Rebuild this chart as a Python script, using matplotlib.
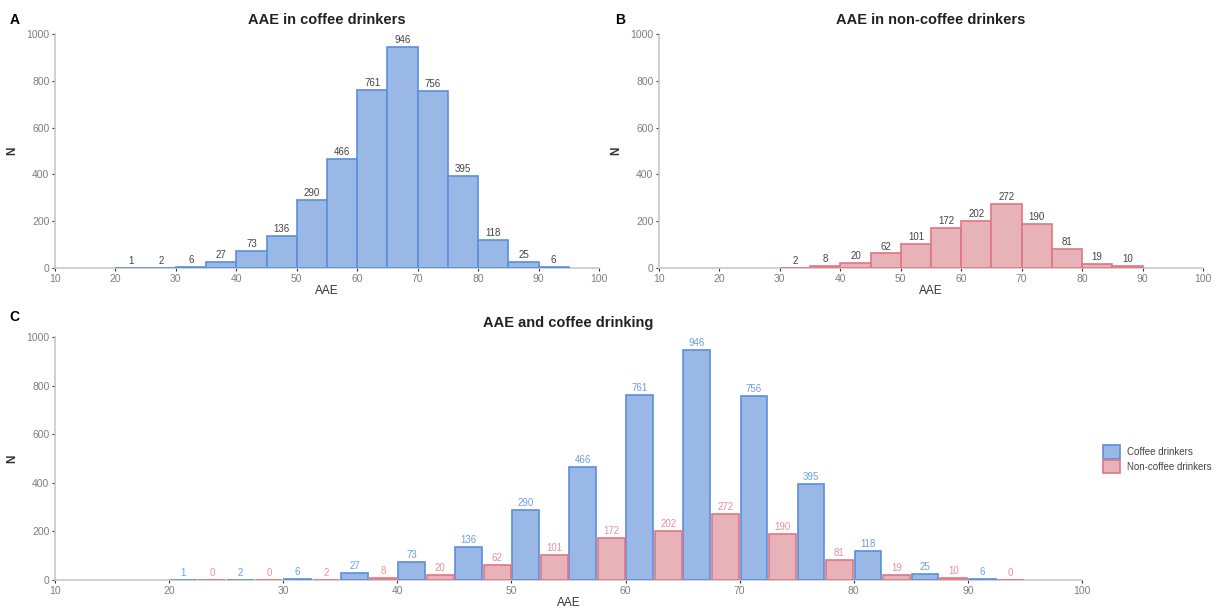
import numpy as np
import matplotlib
matplotlib.use("Agg")
import matplotlib.pyplot as plt
from matplotlib.patches import Patch

bin_starts = [20, 25, 30, 35, 40, 45, 50, 55, 60, 65, 70, 75, 80, 85, 90]
coffee = [1, 2, 6, 27, 73, 136, 290, 466, 761, 946, 756, 395, 118, 25, 6]
non_coffee = [0, 0, 2, 8, 20, 62, 101, 172, 202, 272, 190, 81, 19, 10, 0]
xticks = [10, 20, 30, 40, 50, 60, 70, 80, 90, 100]
yticks = [0, 200, 400, 600, 800, 1000]

blue_fill, blue_edge, blue_text = "#9ab8e6", "#5b8fdc", "#6f9de2"
pink_fill, pink_edge, pink_text = "#e8b2b9", "#e07585", "#e8909c"
axis_grey = "#c8c8c8"
tick_grey = "#7f7f7f"

plt.rcParams['font.family'] = ['Liberation Sans', 'DejaVu Sans']

fig = plt.figure(figsize=(12.19, 6.10), dpi=100)
axA = fig.add_axes([0.0451, 0.5607, 0.4463, 0.3836])
axB = fig.add_axes([0.5406, 0.5607, 0.4463, 0.3836])
axC = fig.add_axes([0.0451, 0.0492, 0.8425, 0.3984])


def style(ax):
    ax.set_xlim(10, 100)
    ax.set_ylim(0, 1000)
    ax.set_xticks(xticks)
    ax.set_yticks(yticks)
    for s in ['top', 'right']:
        ax.spines[s].set_visible(False)
    for s in ['left', 'bottom']:
        ax.spines[s].set_color(axis_grey)
        ax.spines[s].set_linewidth(1.2)
    ax.tick_params(colors="#333333", labelcolor=tick_grey, labelsize=7.5,
                   length=2.5, width=0.8, pad=1.5)
    ax.set_xlabel("AAE", fontsize=8.5, color="#333333", labelpad=1)
    ax.set_ylabel("N", fontsize=8.5, color="#333333", fontweight='bold', labelpad=6)


def hist(ax, counts, fill, edge, title, letter, xl):
    x = np.array(bin_starts)
    bars = ax.bar(x, counts, width=5, align='edge', color=fill, edgecolor=edge,
                  linewidth=1.2, zorder=3)
    for b, c in zip(bars, counts):
        if c == 0:
            b.set_visible(False)
    for xi, c in zip(x, counts):
        if c > 0:
            ax.text(xi + 2.5, c + 8, str(c), ha='center', va='bottom', fontsize=7, color="#444444")
    style(ax)
    ax.set_title(title, fontsize=10.5, fontweight='bold', color="#222222", pad=7)
    fig.text(xl, 0.968, letter, fontsize=10, fontweight='bold', ha='left', va='center')


hist(axA, coffee, blue_fill, blue_edge, "AAE in coffee drinkers", "A", 0.008)
hist(axB, non_coffee, pink_fill, pink_edge, "AAE in non-coffee drinkers", "B", 0.505)

x = np.array(bin_starts)
w = 2.35
axC.bar(x + 1.25, coffee, width=w, color=blue_fill, edgecolor=blue_edge, linewidth=1.2, zorder=3)
axC.bar(x + 3.75, non_coffee, width=w, color=pink_fill, edgecolor=pink_edge, linewidth=1.2, zorder=3)
for xi, c, n in zip(x, coffee, non_coffee):
    axC.text(xi + 1.25, c + 8, str(c), ha='center', va='bottom', fontsize=7, color=blue_text)
    axC.text(xi + 3.75, n + 8, str(n), ha='center', va='bottom', fontsize=7, color=pink_text)
style(axC)
axC.set_title("AAE and coffee drinking", fontsize=10.5, fontweight='bold', color="#222222", pad=7)
fig.text(0.008, 0.480, "C", fontsize=10, fontweight='bold', ha='left', va='center')

handles = [Patch(facecolor=blue_fill, edgecolor=blue_edge, linewidth=1.2, label="Coffee drinkers"),
           Patch(facecolor=pink_fill, edgecolor=pink_edge, linewidth=1.2, label="Non-coffee drinkers")]
fig.legend(handles=handles, loc='center left', bbox_to_anchor=(0.901, 0.247), frameon=False,
           fontsize=7, labelcolor="#444444", handlelength=1.7, handleheight=1.7,
           handletextpad=0.7, labelspacing=0.15, borderpad=0)

fig.savefig("out.png", dpi=100, facecolor="white")
